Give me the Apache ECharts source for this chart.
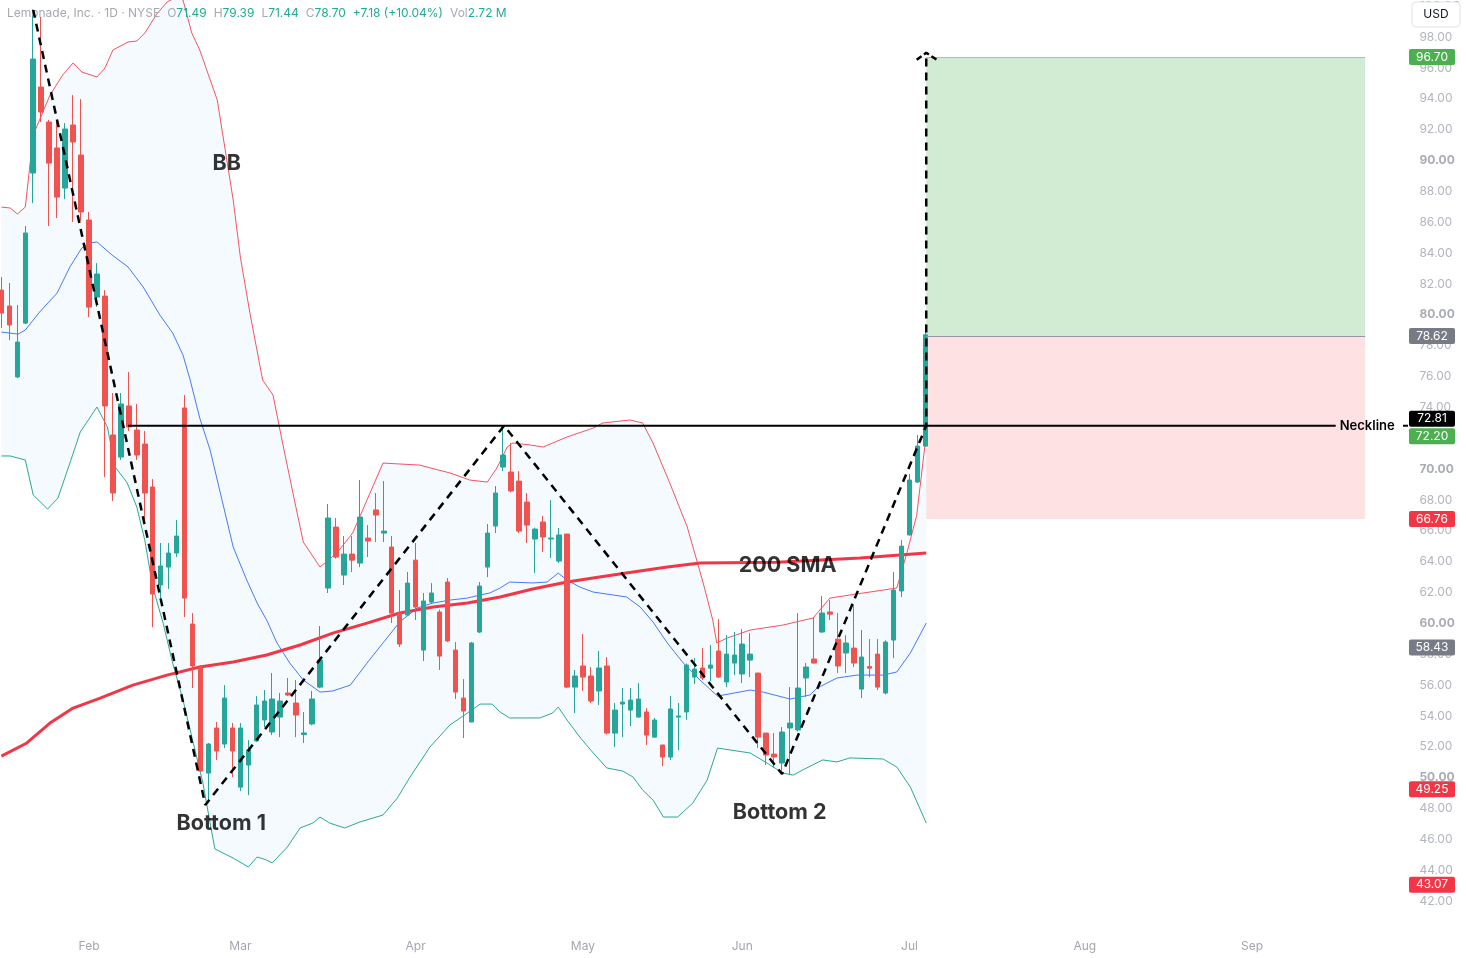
<!DOCTYPE html>
<html>
<head>
<meta charset="utf-8">
<title>LMND daily</title>
<script src="https://cdn.jsdelivr.net/npm/echarts@6/dist/echarts.min.js"></script>
<style>
  html, body { margin: 0; padding: 0; background: #fff; }
  #chart { width: 1466px; height: 958px; }
</style>
</head>
<body>
<div id="chart"></div>
<script>
// one slot per trading day (Jan 15 .. early Sep), candles fill the first 117
const slotCount = 177
const monthNames = ['Feb', 'Mar', 'Apr', 'May', 'Jun', 'Jul', 'Aug', 'Sep']
const monthStarts = [11, 30, 52, 73, 93, 114, 136, 157]

// [open, close, low, high]
const candles = [
  [81.60, 80.11, 79.14, 82.45], [80.57, 79.34, 78.36, 82.06], [75.97, 78.23, 75.90, 80.63],
  [79.46, 85.30, 79.40, 85.75], [89.19, 96.57, 87.24, 99.80], [94.76, 93.14, 92.49, 99.30],
  [92.49, 89.83, 85.75, 92.62], [90.81, 87.63, 86.27, 92.62], [88.21, 92.04, 87.50, 92.43],
  [92.30, 91.20, 86.01, 94.24], [90.35, 86.66, 86.08, 93.98], [86.14, 80.50, 79.85, 86.66],
  [81.15, 82.64, 80.50, 83.35], [81.21, 74.09, 69.48, 81.60], [72.21, 68.45, 67.93, 74.93],
  [70.78, 74.22, 70.59, 74.93], [74.09, 72.73, 72.47, 76.29], [72.53, 70.91, 70.59, 74.22],
  [71.62, 68.45, 66.63, 72.47], [68.84, 61.90, 59.76, 69.35], [62.49, 63.72, 61.51, 65.21],
  [63.65, 64.56, 62.23, 65.21], [64.56, 65.66, 64.30, 66.70], [73.96, 61.64, 60.41, 74.80],
  [59.96, 57.24, 55.81, 60.67], [57.17, 50.43, 50.40, 57.30], [50.30, 52.18, 48.36, 52.25],
  [53.22, 51.73, 51.14, 53.61], [52.18, 55.16, 51.92, 56.00], [53.22, 51.73, 50.04, 53.54],
  [49.39, 53.22, 49.13, 53.54], [50.82, 51.79, 48.87, 52.44], [52.38, 54.71, 52.31, 55.29],
  [53.74, 54.97, 53.28, 55.68], [52.96, 55.10, 52.76, 56.78], [53.93, 54.97, 52.63, 55.49],
  [55.49, 55.36, 55.30, 56.46], [54.84, 54.06, 52.63, 56.33], [52.80, 52.90, 52.25, 54.26],
  [53.48, 55.10, 53.40, 55.62], [55.87, 57.62, 55.80, 59.83], [62.29, 66.83, 61.97, 67.74],
  [66.24, 64.30, 64.20, 66.83], [63.13, 64.49, 62.49, 65.66], [64.49, 64.10, 63.33, 65.66],
  [63.91, 66.89, 63.65, 69.29], [65.53, 65.34, 64.30, 66.37], [67.35, 67.02, 65.27, 68.45],
  [65.85, 65.98, 65.27, 69.22], [64.95, 60.67, 60.02, 65.66], [60.67, 58.66, 58.47, 62.16],
  [60.54, 62.61, 60.48, 63.33], [64.10, 61.06, 60.22, 65.21], [58.27, 61.45, 57.56, 61.97],
  [61.38, 61.97, 61.30, 62.61], [60.74, 57.88, 56.98, 60.90], [62.68, 58.86, 58.80, 62.94],
  [58.27, 55.55, 55.10, 58.79], [55.16, 54.32, 52.57, 56.39], [53.61, 58.73, 53.60, 58.80],
  [59.44, 62.42, 59.37, 62.68], [63.65, 65.85, 63.00, 66.44], [66.31, 68.45, 65.85, 68.90],
  [70.13, 70.91, 69.87, 72.79], [69.81, 68.58, 68.50, 71.69], [69.22, 65.98, 65.85, 69.87],
  [67.86, 66.37, 65.21, 68.45], [65.47, 66.11, 63.26, 66.20], [66.57, 65.60, 64.62, 66.96],
  [65.47, 65.53, 64.24, 67.99], [64.04, 65.73, 63.91, 66.18], [65.79, 55.87, 55.80, 65.80],
  [55.87, 56.59, 54.19, 56.98], [57.24, 56.52, 55.62, 59.31], [56.59, 54.97, 54.84, 57.17],
  [55.62, 57.11, 54.71, 58.21], [57.24, 52.89, 52.80, 57.82], [52.89, 54.38, 51.99, 54.84],
  [54.77, 54.90, 52.63, 55.81], [54.38, 55.03, 53.35, 55.81], [53.93, 55.10, 53.90, 56.13],
  [54.26, 52.76, 52.12, 54.51], [52.63, 53.74, 52.57, 53.87], [52.12, 51.34, 50.75, 52.12],
  [51.34, 54.45, 51.14, 55.29], [53.93, 54.00, 51.79, 54.84], [54.26, 57.30, 53.74, 57.40],
  [56.52, 57.04, 56.07, 57.75], [57.11, 56.46, 56.33, 58.40], [57.10, 57.30, 56.26, 58.60],
  [58.21, 56.52, 56.46, 60.28], [56.20, 58.01, 55.87, 59.24], [57.43, 57.95, 56.65, 59.44],
  [56.72, 58.66, 56.13, 59.63], [57.62, 58.01, 56.52, 59.37], [56.78, 52.63, 51.92, 56.80],
  [52.89, 51.47, 50.82, 52.90], [51.53, 51.34, 50.63, 52.89], [50.95, 52.96, 50.37, 53.28],
  [53.22, 53.54, 50.24, 55.87], [53.09, 55.81, 53.00, 60.67], [56.46, 57.17, 55.23, 57.43],
  [57.69, 57.43, 57.40, 60.41], [59.44, 60.67, 59.40, 61.77], [60.74, 60.60, 60.22, 61.51],
  [58.98, 57.24, 56.78, 60.67], [58.08, 58.73, 56.78, 59.24], [58.40, 57.43, 57.17, 61.19],
  [55.74, 57.82, 55.16, 59.57], [57.20, 57.10, 56.52, 58.98], [58.01, 55.87, 55.68, 58.98],
  [55.49, 58.79, 55.40, 58.90], [58.92, 62.16, 57.75, 63.33], [62.10, 65.01, 61.71, 65.40],
  [65.73, 69.29, 65.70, 69.68], [69.16, 71.49, 69.10, 72.21], [71.49, 78.70, 71.44, 79.39]
]

// Bollinger bands and 200 SMA as [bar, price]
const bbUpper = [
  [0, 86.98], [1.1, 86.92], [2, 86.53], [3, 86.98], [4, 91.65], [6.1, 94.24], [7.7, 95.54],
  [9, 96.32], [10.1, 95.73], [12, 95.41], [13, 95.99], [14, 97.16], [15.9, 97.68], [17, 97.74],
  [18, 98.26], [19.5, 99.49], [20.8, 100.27], [22, 100.6], [22.8, 100.4], [23.9, 98.26],
  [24.9, 97.16], [27.1, 93.92], [29.1, 87.44], [30, 83.74], [31.2, 80.11], [32.8, 75.77],
  [34.1, 74.8], [35.3, 71.69], [36.6, 68.45], [37.9, 65.27], [40, 63.65], [42.1, 64.56],
  [44.1, 65.86], [47.9, 70.39], [52.5, 70.26], [56.3, 69.75], [58.8, 69.29], [61, 69.16],
  [62.2, 70.07], [63.5, 71.43], [64.2, 71.69], [66.4, 71.56], [68, 71.43], [71, 72.08],
  [74.3, 72.66], [75.5, 72.99], [78.9, 73.18], [80.5, 72.99], [81.8, 71.69], [83.9, 69.1],
  [86.1, 66.25], [88.1, 62.62], [89.3, 60.22], [89.8, 58.73], [91.1, 59.05], [94, 59.57],
  [98.1, 59.89], [101.9, 60.35], [104, 61.64], [106.5, 61.84], [110.7, 62.16], [112.4, 62.29],
  [113.7, 64.62], [114.9, 67.0], [116.1, 72.27]
]
const bbBasis = [
  [0, 78.88], [2.1, 78.75], [3, 79.01], [4.8, 80.18], [7, 81.41], [8.6, 83.1], [10.1, 84.33],
  [11.1, 84.65], [12, 84.72], [13.9, 83.87], [15.9, 83.1], [17.8, 81.8], [19.9, 79.98],
  [21.5, 78.82], [22.8, 77.39], [23.7, 75.77], [24.9, 73.31], [26.2, 71.24], [27.1, 69.29],
  [29.1, 64.95], [30.8, 62.81], [32.1, 61.32], [33.3, 60.22], [34.6, 58.73], [36.2, 57.43],
  [37.9, 56.33], [40, 55.55], [41.6, 55.62], [43.8, 56.0], [45.9, 57.43], [47.9, 58.73],
  [50, 60.09], [52.2, 61.0], [54.2, 61.32], [56.3, 61.51], [58.5, 61.64], [60.1, 61.84],
  [61.3, 61.97], [62.6, 62.29], [63.8, 62.68], [66.7, 62.62], [68.5, 62.68], [69.9, 63.26],
  [71, 62.81], [72.6, 62.36], [74.3, 62.03], [76.8, 61.84], [78.5, 61.71], [80.2, 61.06],
  [81.8, 60.09], [83.6, 58.73], [85.6, 57.43], [87.7, 56.33], [89.9, 55.29], [94, 55.68],
  [95.6, 55.55], [99, 55.1], [101.5, 55.36], [102.4, 55.81], [104.9, 56.46], [107.4, 56.65],
  [110.7, 56.65], [112.4, 56.85], [114.1, 58.08], [116.1, 60.02]
]
const bbLower = [
  [0, 70.85], [1.1, 70.85], [3, 70.59], [4, 68.32], [5.8, 67.41], [7.1, 68.12], [8.6, 70.39],
  [9.9, 72.4], [12, 74.02], [13.3, 72.73], [14.3, 70.13], [15.8, 69.1], [17, 67.54], [18, 65.4],
  [19, 62.36], [20.3, 60.02], [21.5, 57.43], [22.8, 55.03], [24, 52.44], [25.3, 49.65],
  [26.2, 47.06], [26.8, 45.38], [29.1, 44.79], [31, 44.21], [32.1, 44.86], [33.3, 44.66],
  [34, 44.47], [35.9, 45.51], [37.5, 46.74], [39.1, 47.06], [40, 47.45], [41.2, 47.06],
  [43.1, 46.74], [45, 47.13], [47.9, 47.58], [49.7, 48.68], [51.3, 50.04], [53.8, 51.99],
  [56.3, 53.41], [58.5, 54.19], [60.1, 54.77], [61.6, 54.77], [62.6, 54.26], [63.8, 53.87],
  [67.6, 53.87], [69.2, 54.19], [69.9, 54.58], [71, 53.74], [72.6, 52.64], [74.3, 51.6],
  [76, 50.63], [78, 50.43], [79.3, 50.04], [80.5, 49.2], [81.8, 48.55], [83.1, 47.45],
  [84.9, 47.45], [86.8, 48.36], [88.6, 49.85], [89.9, 51.92], [94, 51.6], [96.1, 50.95],
  [98.1, 50.3], [99.4, 50.17], [100.6, 50.5], [103.1, 51.15], [104.9, 51.02], [106.5, 51.28],
  [110.7, 51.21], [112.4, 50.69], [114.1, 49.4], [116.1, 47.06]
]
const sma200 = [
  [0, 51.4], [3.2, 52.25], [6.1, 53.54], [9, 54.51], [12.4, 55.16], [16.5, 56.0], [20.8, 56.65],
  [24.9, 57.17], [29.1, 57.5], [33.3, 57.95], [37.5, 58.6], [41.6, 59.37], [45.9, 60.02],
  [50, 60.67], [54.2, 61.06], [58.5, 61.32], [62.6, 61.71], [66.7, 62.23], [71, 62.68],
  [75.1, 63.0], [79.3, 63.33], [83.6, 63.65], [87.7, 63.91], [97.4, 63.97], [107.8, 64.24],
  [116.1, 64.56]
]

// drawn pattern: top, bottom 1, neckline peak, bottom 2, breakout, target
const patternPts = [[4, 99.75], [25.6, 48.23], [63.1, 72.81], [98, 50.24], [116.1, 72.81], [116.1, 96.98]]
const arrowPts = [[114.9, 96.53], [116.1, 96.98], [117.6, 96.47]]
const neckline = [[15.9, 72.81], [167.5, 72.81]]

// long position tool
const boxStart = 116.1
const boxEnd = 171.2
const target = 96.70
const entry = 78.62
const stop = 66.76

const notes = [
  { name: 'BB', value: [28.3, 89.77] },
  { name: 'Bottom 1', value: [27.6, 47.06] },
  { name: 'Bottom 2', value: [97.7, 47.77] },
  { name: '200 SMA', value: [98.7, 63.78] }
]

// price scale tags
const tags = [
  { v: 96.70, c: '#4caf50' }, { v: 78.62, c: '#787b86' }, { v: 72.81, c: '#000000', dy: -7 },
  { v: 72.20, c: '#4caf50', dy: 1 }, { v: 66.76, c: '#f23645' }, { v: 58.43, c: '#787b86' },
  { v: 49.25, c: '#f23645' }, { v: 43.07, c: '#f23645' }
]

const FONT = 'Inter, Roboto, sans-serif'
const gray = '#a6a9b1'
const teal = '#22ab94'

const chart = echarts.init(document.getElementById('chart'))

const option = {
  animation: false,
  backgroundColor: '#ffffff',
  textStyle: { fontFamily: FONT },
  title: {
    left: 7,
    top: 7,
    padding: 0,
    text: '{g|Lemonade, Inc. · 1D · NYSE}{s|}{g|O}{v|71.49}{s|}{g|H}{v|79.39}{s|}{g|L}{v|71.44}{s|}{g|C}{v|78.70}{s|}{v|+7.18 (+10.04%)}{s|}{g|Vol}{v|2.72 M}',
    textStyle: {
      fontSize: 12,
      fontWeight: 'normal',
      color: gray,
      fontFamily: FONT,
      rich: {
        g: { color: gray, fontSize: 12, fontFamily: FONT },
        v: { color: teal, fontSize: 12, fontFamily: FONT },
        s: { width: 7 }
      }
    }
  },
  grid: {
    left: -2.6,
    right: 58.6,
    top: 0,
    bottom: 26,
    containLabel: false,
    outerBoundsMode: 'none'
  },
  xAxis: [
    {
      type: 'category',
      data: Array.from({ length: slotCount }, (_, i) => i),
      boundaryGap: true,
      axisLine: { show: false },
      axisTick: { show: false },
      splitLine: { show: false },
      axisLabel: {
        interval: (index) => monthStarts.includes(index),
        formatter: (value, index) => monthNames[monthStarts.indexOf(Number(value))] || '',
        color: '#a3a6af',
        fontSize: 12,
        fontFamily: FONT,
        margin: 8
      }
    },
    {
      type: 'value',
      min: -0.5,
      max: slotCount - 0.5,
      show: false
    }
  ],
  yAxis: {
    type: 'value',
    position: 'right',
    min: 40,
    max: 100.4,
    interval: 2,
    scale: true,
    axisLine: { show: false },
    axisTick: { show: false },
    splitLine: { show: false },
    axisLabel: {
      showMinLabel: false,
      showMaxLabel: false,
      align: 'left',
      margin: 12,
      fontSize: 12,
      fontFamily: FONT,
      color: '#b2b5be',
      formatter: (v) => (v % 10 === 0 ? '{b|' + v.toFixed(2) + '}' : v.toFixed(2)),
      rich: {
        b: { fontWeight: 'bold', color: '#a9acb4', fontSize: 12, fontFamily: FONT }
      }
    }
  },
  series: [
    {
      // band background
      type: 'custom',
      xAxisIndex: 1,
      silent: true,
      clip: true,
      z: 1,
      data: [[0, 50]],
      renderItem: (params, api) => {
        const pts = bbUpper.map(d => api.coord(d))
          .concat(bbLower.slice().reverse().map(d => api.coord(d)))
        return {
          type: 'polygon',
          shape: { points: pts },
          style: { fill: 'rgba(33,150,243,0.05)' }
        }
      }
    },
    {
      type: 'line', xAxisIndex: 1, data: bbUpper, showSymbol: false, silent: true, z: 2,
      lineStyle: { color: '#f23645', width: 1, opacity: 0.85 }
    },
    {
      type: 'line', xAxisIndex: 1, data: bbBasis, showSymbol: false, silent: true, z: 2,
      lineStyle: { color: '#2962ff', width: 1, opacity: 0.85 }
    },
    {
      type: 'line', xAxisIndex: 1, data: bbLower, showSymbol: false, silent: true, z: 2,
      lineStyle: { color: '#089981', width: 1, opacity: 0.85 }
    },
    {
      type: 'line', xAxisIndex: 1, data: sma200, showSymbol: false, silent: true, z: 3,
      lineStyle: { color: '#f23645', width: 3 }
    },
    {
      type: 'candlestick',
      xAxisIndex: 0,
      data: candles,
      barWidth: 5,
      z: 4,
      itemStyle: {
        color: '#26a69a',
        color0: '#ef5350',
        borderColor: '#26a69a',
        borderColor0: '#ef5350',
        borderWidth: 1
      }
    },
    {
      // position box
      type: 'line', xAxisIndex: 1, z: 5, silent: true,
      data: [[boxStart, entry]], showSymbol: false, lineStyle: { opacity: 0 },
      markArea: {
        silent: true,
        data: [
          [{ coord: [boxStart, target], itemStyle: { color: 'rgba(76,175,80,0.25)' } }, { coord: [boxEnd, entry] }],
          [{ coord: [boxStart, entry], itemStyle: { color: 'rgba(242,54,69,0.15)' } }, { coord: [boxEnd, stop] }]
        ]
      },
      markLine: {
        silent: true,
        symbol: 'none',
        label: { show: false },
        data: [
          [{ coord: [boxStart, entry], lineStyle: { color: '#9598a1', width: 1, type: 'solid' } }, { coord: [boxEnd, entry] }],
          [{ coord: [boxStart, target], lineStyle: { color: 'rgba(76,175,80,0.45)', width: 1, type: 'solid' } }, { coord: [boxEnd, target] }]
        ]
      }
    },
    {
      type: 'line', xAxisIndex: 1, data: neckline, showSymbol: false, silent: true, z: 6,
      lineStyle: { color: '#000', width: 2 },
      endLabel: {
        show: true,
        formatter: 'Neckline',
        color: '#000',
        fontSize: 13,
        fontWeight: 600,
        fontFamily: FONT,
        distance: 4
      }
    },
    {
      type: 'line', xAxisIndex: 1, data: patternPts, showSymbol: false, silent: true, z: 7,
      lineStyle: { color: '#000', width: 2.5, type: [8, 6] }
    },
    {
      type: 'line', xAxisIndex: 1, data: arrowPts, showSymbol: false, silent: true, z: 7,
      lineStyle: { color: '#000', width: 2.5, type: [6, 3] }
    },
    {
      type: 'scatter', xAxisIndex: 1, data: notes, symbolSize: 0, silent: true, z: 8,
      label: {
        show: true,
        position: 'inside',
        formatter: '{b}',
        color: '#000',
        fontSize: 21.5,
        fontWeight: 'bold',
        fontFamily: FONT
      }
    }
  ]
}

chart.setOption(option)

// price scale tags and the currency box
const graphics = [
  {
    type: 'rect', shape: { x: 1412, y: 2, width: 48, height: 25, r: 4 },
    style: { fill: '#fff', stroke: '#e0e3eb', lineWidth: 1 }, z: 100
  },
  {
    type: 'text', x: 1436, y: 14.5,
    style: { text: 'USD', fill: '#131722', fontSize: 12, fontFamily: FONT, align: 'center', verticalAlign: 'middle' },
    z: 101
  }
]
tags.forEach(t => {
  const y = chart.convertToPixel({ yAxisIndex: 0 }, t.v) + (t.dy || 0)
  graphics.push({
    type: 'rect', shape: { x: 1409, y: y - 8, width: 46, height: 16, r: 2 },
    style: { fill: t.c }, z: 100
  })
  graphics.push({
    type: 'text', x: 1432, y: y,
    style: { text: t.v.toFixed(2), fill: '#fff', fontSize: 12, fontFamily: FONT, align: 'center', verticalAlign: 'middle' },
    z: 101
  })
})
const neckY = chart.convertToPixel({ yAxisIndex: 0 }, neckline[0][1])
graphics.push({
  type: 'line', shape: { x1: 1403, y1: neckY, x2: 1408, y2: neckY },
  style: { stroke: '#000', lineWidth: 2 }, z: 100
})
chart.setOption({ graphic: graphics })
</script>
</body>
</html>
